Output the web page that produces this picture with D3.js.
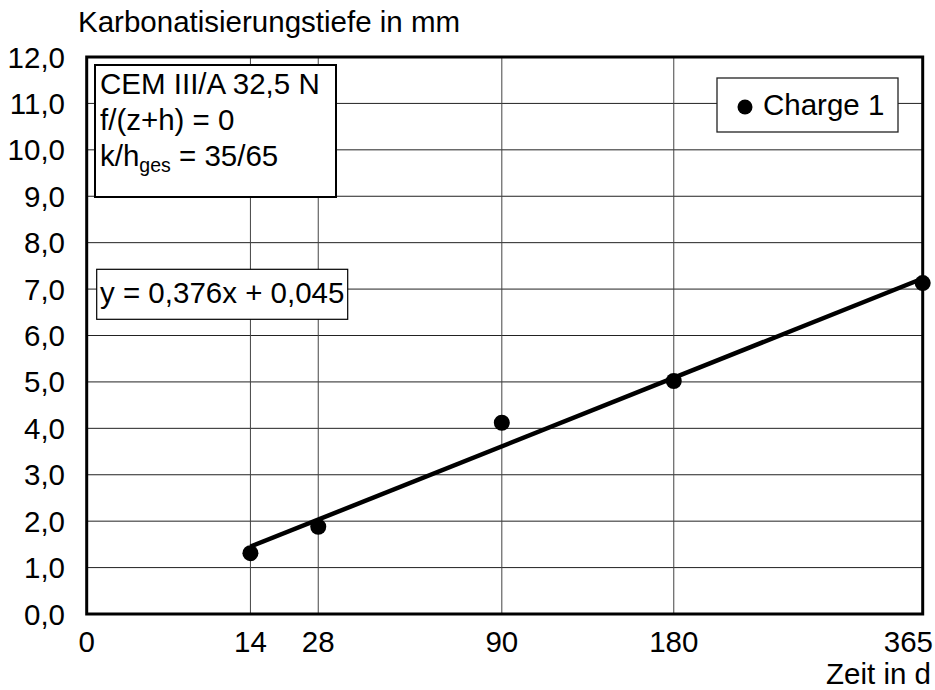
<!DOCTYPE html>
<html>
<head>
<meta charset="utf-8">
<script src="https://cdn.jsdelivr.net/npm/d3@7"></script>
<style>
  body { margin: 0; background: #fff; }
  svg { display: block; font-family: "Liberation Sans", Arial, sans-serif; }
</style>
</head>
<body>
<svg id="chart"></svg>
<script>
// data
const days = [14, 28, 90, 180, 365];
const depth = [1.31, 1.88, 4.12, 5.02, 7.13];
const xTicks = [0, 14, 28, 90, 180, 365];
const yTicks = [0, 1, 2, 3, 4, 5, 6, 7, 8, 9, 10, 11, 12];
const fitSlope = 0.376;
const fitIntercept = 0.045;
const seriesName = "Charge 1";
const eqLabel = "y = 0,376x + 0,045";

const width = 935, height = 690;
const margin = {top: 57, right: 12.3, bottom: 76, left: 86.7};
const fontSize = 29.5;

const svg = d3.select("#chart")
    .attr("width", width)
    .attr("height", height);

// time axis is drawn on a square-root scale
const x = d3.scaleSqrt()
    .domain([0, 365])
    .range([margin.left, width - margin.right]);

const y = d3.scaleLinear()
    .domain([0, 12])
    .range([height - margin.bottom, margin.top]);

const fmt = v => d3.format(".1f")(v).replace(".", ",");

// gridlines
svg.append("g")
    .selectAll("line")
    .data(yTicks.slice(1, -1))
    .join("line")
        .attr("x1", x(0)).attr("x2", x(365))
        .attr("y1", d => y(d)).attr("y2", d => y(d))
        .attr("stroke", "#222")
        .attr("stroke-width", 1);

svg.append("g")
    .selectAll("line")
    .data(xTicks.slice(1, -1))
    .join("line")
        .attr("x1", d => x(d)).attr("x2", d => x(d))
        .attr("y1", y(0)).attr("y2", y(12))
        .attr("stroke", "#444")
        .attr("stroke-width", 1);

// frame
svg.append("rect")
    .attr("x", x(0)).attr("y", y(12))
    .attr("width", x(365) - x(0))
    .attr("height", y(0) - y(12))
    .attr("fill", "none")
    .attr("stroke", "#000")
    .attr("stroke-width", 3);

// y tick labels
svg.append("g")
    .selectAll("text")
    .data(yTicks)
    .join("text")
        .attr("x", 65)
        .attr("y", d => y(d) + 10.5)
        .attr("text-anchor", "end")
        .attr("font-size", fontSize)
        .text(d => fmt(d));

// x tick labels (last one kept inside the picture)
svg.append("g")
    .selectAll("text")
    .data(xTicks)
    .join("text")
        .attr("x", d => d === 365 ? 933 : x(d))
        .attr("y", 652)
        .attr("text-anchor", d => d === 365 ? "end" : "middle")
        .attr("font-size", fontSize)
        .text(d => d);

// axis titles
svg.append("text")
    .attr("x", 78).attr("y", 32)
    .attr("font-size", fontSize)
    .text("Karbonatisierungstiefe in mm");

svg.append("text")
    .attr("x", 931).attr("y", 684)
    .attr("text-anchor", "end")
    .attr("font-size", fontSize)
    .text("Zeit in d");

// regression line y = a*sqrt(t) + b
const fitLine = d3.line()
    .x(d => x(d))
    .y(d => y(fitSlope * Math.sqrt(d) + fitIntercept));

svg.append("path")
    .datum([days[0], days[days.length - 1]])
    .attr("d", fitLine)
    .attr("fill", "none")
    .attr("stroke", "#000")
    .attr("stroke-width", 4.5);

// measured points
svg.append("g")
    .selectAll("circle")
    .data(days)
    .join("circle")
        .attr("cx", d => x(d))
        .attr("cy", (d, i) => y(depth[i]))
        .attr("r", 8)
        .attr("fill", "#000");

// info box
const info = svg.append("g");
info.append("rect")
    .attr("x", 95).attr("y", 65)
    .attr("width", 241).attr("height", 132)
    .attr("fill", "#fff")
    .attr("stroke", "#000")
    .attr("stroke-width", 2);
info.append("text")
    .attr("x", 100).attr("y", 94)
    .attr("font-size", fontSize)
    .text("CEM III/A 32,5 N");
info.append("text")
    .attr("x", 100).attr("y", 130)
    .attr("font-size", fontSize)
    .text("f/(z+h) = 0");
const kh = info.append("text")
    .attr("x", 100).attr("y", 166)
    .attr("font-size", fontSize);
kh.append("tspan").text("k/h");
kh.append("tspan").attr("font-size", 19.5).attr("dy", 6).text("ges");
kh.append("tspan").attr("dy", -6).text(" = 35/65");

// equation label
svg.append("rect")
    .attr("x", 96.7).attr("y", 269.3)
    .attr("width", 251).attr("height", 50)
    .attr("fill", "#fff")
    .attr("stroke", "#000")
    .attr("stroke-width", 1.2);
svg.append("text")
    .attr("x", 100).attr("y", 303)
    .attr("font-size", fontSize)
    .text(eqLabel);

// legend
svg.append("rect")
    .attr("x", 717).attr("y", 78)
    .attr("width", 181).attr("height", 54)
    .attr("fill", "#fff")
    .attr("stroke", "#222")
    .attr("stroke-width", 1.3);
svg.append("circle")
    .attr("cx", 745).attr("cy", 107)
    .attr("r", 7.5)
    .attr("fill", "#000");
svg.append("text")
    .attr("x", 763).attr("y", 115)
    .attr("font-size", fontSize)
    .text(seriesName);
</script>
</body>
</html>
